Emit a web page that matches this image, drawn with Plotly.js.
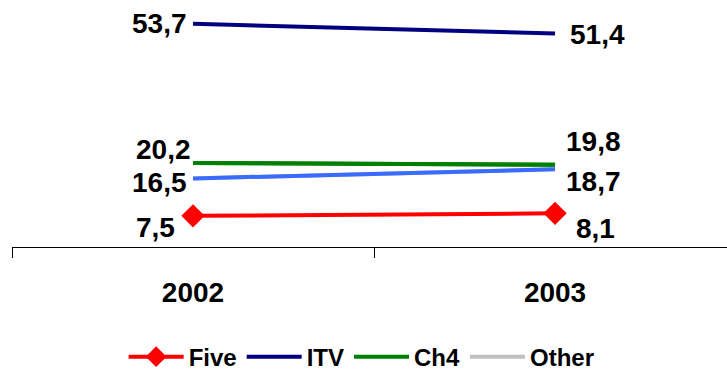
<!DOCTYPE html>
<html>
<head>
<meta charset="utf-8">
<script src="https://cdn.plot.ly/plotly-3.0.1.min.js"></script>
<style>
  html, body { margin: 0; padding: 0; background: #ffffff; }
  #chart { width: 727px; height: 372px; }
</style>
</head>
<body>
<div id="chart"></div>
<script>
// Audience share by channel, 2002 vs 2003
const years = ['2002', '2003'];
const five  = [7.5, 8.1];
const itv   = [53.7, 51.4];
const ch4   = [20.2, 19.8];
const other = [16.5, 18.7];

const FONT = 'Liberation Sans, Arial, sans-serif';

function lineTrace(name, y, color, extra) {
  return Object.assign({
    type: 'scatter', mode: 'lines', name: name, x: years, y: y,
    line: { color: color, width: 4 }, hoverinfo: 'skip'
  }, extra || {});
}

const traces = [
  lineTrace('Five', five, '#ff0000', {
    mode: 'lines+markers',
    marker: { symbol: 'diamond', size: 18, color: '#ff0000' }
  }),
  lineTrace('ITV', itv, '#000080'),
  lineTrace('Ch4', ch4, '#008000'),
  // legend swatch for "Other" is grey, the plotted line is blue
  lineTrace('Other', other, '#c0c0c0'),
  lineTrace('Other', other, '#3a6bff', { showlegend: false }),
  lineTrace('Ch4', ch4, '#008000', { showlegend: false })
];

// label placement per series: [xshift, yshift] for 2002 (left side) and 2003 (right side)
const labelSpots = [
  { y: itv,   left: [-4, 0],    right: [13, -1] },
  { y: ch4,   left: [0, 14],    right: [9, 23] },
  { y: other, left: [-4, -4],   right: [9, -12] },
  { y: five,  left: [-16, -12], right: [19, -15] }
];

const fmt = v => v.toFixed(1).replace('.', ',');

const annotations = [];
labelSpots.forEach(s => {
  [0, 1].forEach(i => {
    const sh = i === 0 ? s.left : s.right;
    annotations.push({
      x: i, y: s.y[i], xref: 'x', yref: 'y',
      text: fmt(s.y[i]), showarrow: false,
      xanchor: i === 0 ? 'right' : 'left', yanchor: 'middle',
      xshift: sh[0], yshift: sh[1],
      font: { family: FONT, size: 28, weight: 'bold', color: '#000000' }
    });
  });
});

const layout = {
  width: 727, height: 372,
  margin: { l: 12, r: 0, t: 6, b: 125, autoexpand: false },
  paper_bgcolor: '#ffffff', plot_bgcolor: '#ffffff',
  showlegend: true,
  legend: {
    orientation: 'h', x: 0.489, xanchor: 'center',
    y: -0.55, yanchor: 'bottom',
    font: { family: FONT, size: 24, weight: 'bold', color: '#000000' },
    itemwidth: 55, tracegroupgap: 0, itemclick: false
  },
  xaxis: {
    type: 'category', range: [-0.5, 1.475],
    showline: true, linecolor: '#000000', linewidth: 1,
    ticks: 'outside', tickson: 'boundaries', ticklen: 10, tickcolor: '#000000', tickwidth: 1,
    ticklabelstandoff: 20,
    showgrid: false, zeroline: false, fixedrange: true,
    tickfont: { family: FONT, size: 28, weight: 'bold', color: '#000000' }
  },
  yaxis: {
    range: [0, 58], visible: false, showgrid: false, zeroline: false, fixedrange: true
  },
  annotations: annotations
};

Plotly.newPlot('chart', traces, layout, { displayModeBar: false, staticPlot: true });
</script>
</body>
</html>
